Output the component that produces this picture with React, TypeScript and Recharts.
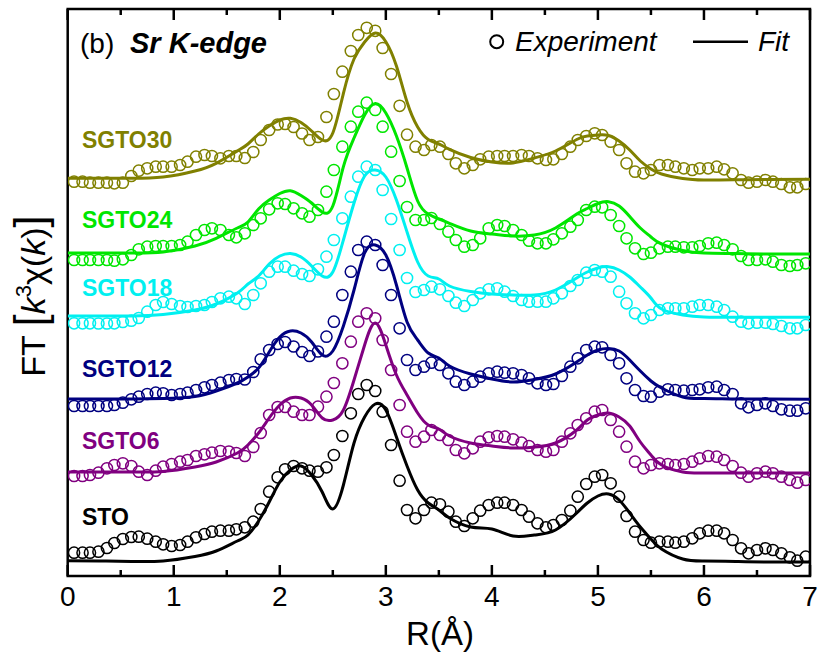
import React from 'react';
import { ComposedChart, Scatter, Line, XAxis, YAxis, ReferenceArea } from 'recharts';

// R grid (Å) of the experimental FT points
const R_EXP = [
  0.06, 0.14, 0.21, 0.29, 0.37, 0.44, 0.52, 0.60, 0.67, 0.75,
  0.83, 0.90, 0.98, 1.06, 1.13, 1.21, 1.29, 1.36, 1.44, 1.52,
  1.59, 1.67, 1.75, 1.82, 1.90, 1.98, 2.05, 2.13, 2.21, 2.28,
  2.36, 2.44, 2.51, 2.59, 2.67, 2.74, 2.82, 2.90, 2.97, 3.05,
  3.13, 3.20, 3.28, 3.36, 3.43, 3.51, 3.59, 3.66, 3.74, 3.82,
  3.89, 3.97, 4.05, 4.12, 4.20, 4.28, 4.35, 4.43, 4.51, 4.58,
  4.66, 4.74, 4.81, 4.89, 4.97, 5.04, 5.12, 5.20, 5.27, 5.35,
  5.43, 5.50, 5.58, 5.66, 5.73, 5.81, 5.89, 5.96, 6.04, 6.12,
  6.19, 6.27, 6.35, 6.42, 6.50, 6.58, 6.65, 6.73, 6.81, 6.88,
  6.96,
];

// R grid (Å) of the fit curves
const R_FIT = [
  0, 0.3, 0.6, 0.9, 1.2, 1.4, 1.6, 1.7, 1.8, 1.9,
  2.0, 2.1, 2.2, 2.3, 2.4, 2.5, 2.6, 2.7, 2.8, 2.9,
  3.0, 3.1, 3.2, 3.3, 3.4, 3.5, 3.6, 3.8, 4.0, 4.2,
  4.4, 4.6, 4.8, 4.9, 5.0, 5.1, 5.2, 5.3, 5.4, 5.5,
  5.6, 5.8, 6.0, 6.3, 6.6, 7.0,
];

// Experimental |FT| (vertically offset, arb. units)
const STO_EXP = [
  2.33, 2.33, 2.33, 2.43, 2.80, 3.30, 3.70, 3.90, 3.93, 3.73,
  3.43, 3.17, 3.00, 3.10, 3.43, 3.87, 4.20, 4.43, 4.53, 4.53,
  4.67, 4.87, 5.43, 6.70, 8.43, 9.87, 10.67, 11.00, 10.77, 10.53,
  10.43, 10.87, 12.10, 14.00, 16.27, 18.20, 19.10, 18.50, 16.43, 13.10,
  9.53, 6.60, 5.77, 6.60, 7.33, 7.17, 6.43, 5.43, 5.00, 5.77,
  6.53, 7.10, 7.33, 7.33, 7.10, 6.60, 5.93, 5.27, 4.87, 5.10,
  5.60, 6.53, 7.93, 9.20, 9.93, 10.10, 9.27, 7.93, 6.00, 4.43,
  3.60, 3.33, 3.43, 3.43, 3.33, 3.43, 3.77, 4.27, 4.53, 4.53,
  4.27, 3.60, 2.77, 2.27, 2.60, 2.77, 2.60, 2.27, 1.87, 1.53,
  1.93,
];
const SGTO6_EXP = [
  10.0, 10.0, 10.1, 10.33, 10.77, 11.1, 11.27, 11.0, 10.43, 10.1,
  10.53, 10.93, 11.2, 11.43, 11.6, 12.0, 12.17, 12.33, 12.5, 12.45,
  12.3, 12.0, 12.9, 14.3, 16.1, 16.9, 16.9, 16.43, 16.1, 16.1,
  16.93, 17.93, 19.3, 21.27, 23.43, 25.43, 26.27, 25.77, 23.6, 20.6,
  17.1, 14.43, 13.43, 13.93, 14.6, 14.1, 13.6, 12.6, 12.27, 12.77,
  13.43, 13.87, 14.0, 13.93, 13.67, 13.33, 13.0, 12.6, 12.43, 12.6,
  13.43, 14.27, 15.1, 15.77, 16.43, 16.6, 15.6, 14.43, 12.93, 11.43,
  10.77, 11.1, 11.27, 11.2, 11.1, 11.2, 11.43, 11.77, 12.0, 11.93,
  11.6, 11.0, 10.33, 9.93, 10.27, 10.43, 10.27, 9.93, 9.6, 9.33,
  9.6,
];
const SGTO12_EXP = [
  17.0, 17.0, 17.0, 17.0, 17.0, 17.1, 17.33, 17.67, 17.93, 18.2,
  18.33, 18.27, 18.1, 18.2, 18.33, 18.6, 18.87, 19.1, 19.33, 19.6,
  19.7, 19.65, 20.4, 21.67, 22.6, 23.2, 23.4, 22.95, 22.4, 22.0,
  22.45, 23.93, 25.43, 28.1, 30.43, 32.6, 33.43, 33.1, 31.1, 28.1,
  24.77, 21.6, 20.6, 20.93, 21.33, 21.1, 20.27, 19.43, 19.1, 19.43,
  19.93, 20.27, 20.43, 20.33, 20.27, 20.1, 19.77, 19.27, 19.1, 19.2,
  20.0, 20.93, 21.77, 22.6, 22.93, 22.87, 22.1, 21.27, 19.77, 18.6,
  18.0, 17.93, 18.43, 18.67, 18.6, 18.53, 18.6, 18.67, 18.87, 18.93,
  18.6, 18.2, 17.27, 16.87, 17.1, 17.27, 17.0, 16.67, 16.53, 16.53,
  16.77,
];
const SGTO18_EXP = [
  25.27, 25.27, 25.27, 25.25, 25.25, 25.27, 25.4, 25.53, 25.8, 26.43,
  27.1, 27.4, 27.2, 27.0, 26.9, 27.0, 27.1, 27.4, 27.77, 27.93,
  27.77, 27.2, 28.1, 29.27, 30.43, 30.93, 30.93, 30.53, 30.2, 30.0,
  30.67, 31.93, 33.6, 35.77, 37.93, 39.93, 40.93, 40.6, 38.6, 35.7,
  32.6, 29.8, 28.4, 28.6, 28.93, 28.67, 28.0, 27.33, 27.0, 27.6,
  28.27, 28.67, 28.77, 28.43, 28.0, 27.6, 27.43, 27.43, 27.43, 27.77,
  28.27, 29.0, 29.6, 30.33, 30.6, 30.43, 29.93, 28.43, 27.27, 26.27,
  25.77, 26.1, 26.6, 26.77, 26.77, 26.77, 26.93, 27.1, 27.1, 26.93,
  26.6, 25.93, 25.43, 25.27, 25.33, 25.33, 25.2, 25.0, 24.77, 24.77,
  25.1,
];
const SGTO24_EXP = [
  31.6, 31.6, 31.6, 31.6, 31.6, 31.53, 31.67, 32.1, 32.67, 32.93,
  33.0, 33.0, 33.0, 33.1, 33.43, 34.1, 34.6, 34.77, 34.6, 34.1,
  33.87, 34.27, 35.1, 35.77, 36.67, 37.27, 37.2, 36.77, 36.27, 35.93,
  36.6, 38.43, 40.6, 42.93, 44.93, 46.43, 47.33, 46.6, 44.93, 42.43,
  39.5, 36.9, 35.6, 35.6, 35.8, 35.2, 34.43, 33.6, 32.93, 33.1,
  33.77, 34.77, 35.1, 35.0, 34.6, 34.1, 33.53, 33.27, 33.27, 33.67,
  34.27, 34.93, 35.6, 36.6, 36.93, 36.87, 36.1, 35.0, 33.77, 32.77,
  32.2, 32.33, 32.77, 32.93, 32.93, 32.87, 32.87, 33.0, 33.27, 33.33,
  33.1, 32.67, 32.0, 31.6, 31.6, 31.67, 31.43, 31.1, 31.0, 31.1,
  31.27,
];
const SGTO30_EXP = [
  39.43, 39.43, 39.33, 39.33, 39.33, 39.27, 39.33, 40.0, 40.53, 40.77,
  40.93, 40.93, 40.93, 41.1, 41.43, 41.93, 42.1, 42.0, 41.77, 42.0,
  42.0, 41.8, 42.4, 43.6, 44.6, 45.15, 45.2, 44.9, 44.25, 43.6,
  43.9, 45.9, 48.2, 50.43, 52.5, 54.1, 54.82, 54.52, 52.8, 50.2,
  47.02, 44.13, 42.93, 42.6, 43.1, 42.93, 42.2, 41.27, 40.77, 41.1,
  41.67, 41.93, 42.0, 42.0, 42.0, 42.1, 42.0, 41.77, 41.6, 41.67,
  42.2, 42.93, 43.6, 44.0, 44.27, 44.1, 43.43, 42.6, 41.27, 40.43,
  40.27, 40.6, 41.1, 41.1, 40.93, 40.77, 40.6, 40.77, 40.77, 40.93,
  40.67, 40.27, 39.6, 39.33, 39.43, 39.6, 39.43, 39.2, 38.87, 38.87,
  39.2,
];

// Fit curves (same offsets)
const STO_FIT = [
  1.53, 1.50, 1.45, 1.50, 1.95, 2.50, 3.50, 4.10, 5.50, 7.40,
  9.40, 10.60, 11.00, 10.10, 8.40, 6.70, 9.10, 13.30, 15.90, 17.20,
  16.60, 13.90, 11.00, 8.60, 7.30, 6.60, 5.80, 4.90, 4.70, 4.00,
  4.10, 4.60, 6.30, 7.30, 8.00, 8.20, 7.60, 6.30, 4.90, 3.70,
  2.70, 1.70, 1.50, 1.45, 1.40, 1.40,
];
const SGTO6_FIT = [
  10.4, 10.4, 10.4, 10.45, 10.9, 11.4, 12.3, 13.1, 14.3, 15.8,
  17.1, 17.8, 17.8, 17.1, 15.8, 15.6, 16.6, 19.6, 23.1, 25.3,
  23.1, 20.1, 18.1, 16.3, 15.1, 14.7, 14.0, 13.3, 13.0, 12.8,
  12.9, 13.3, 14.6, 15.6, 16.1, 16.3, 15.9, 15.0, 13.4, 12.1,
  11.1, 10.4, 10.3, 10.3, 10.3, 10.3,
];
const SGTO12_FIT = [
  17.7, 17.7, 17.7, 17.75, 17.95, 18.5, 19.3, 19.9, 20.8, 22.4,
  23.9, 24.5, 24.3, 23.4, 22.1, 22.5, 25.0, 28.6, 32.3, 33.1,
  32.1, 29.1, 25.4, 23.6, 22.3, 21.8, 21.0, 20.2, 19.7, 19.4,
  19.65, 20.2, 21.4, 22.1, 22.6, 22.75, 22.5, 21.6, 20.5, 19.5,
  18.8, 17.9, 17.75, 17.7, 17.7, 17.67,
];
const SGTO18_FIT = [
  26.0, 26.0, 26.0, 26.15, 26.6, 27.2, 28.3, 29.2, 30.0, 31.2,
  32.0, 32.25, 31.9, 31.0, 30.0, 30.4, 33.6, 37.3, 40.0, 40.6,
  39.9, 37.6, 34.4, 31.4, 30.0, 29.7, 29.0, 28.45, 28.2, 28.1,
  28.1, 28.6, 29.8, 30.4, 30.8, 30.93, 30.6, 29.9, 28.9, 27.8,
  26.7, 26.1, 25.9, 25.87, 25.87, 25.87,
];
const SGTO24_FIT = [
  32.3, 32.3, 32.3, 32.4, 33.0, 33.77, 34.8, 35.4, 36.7, 37.6,
  38.25, 38.53, 38.05, 37.3, 36.4, 37.0, 40.93, 43.8, 46.1, 47.25,
  46.3, 44.0, 40.8, 37.5, 36.2, 35.7, 35.27, 34.5, 34.2, 34.0,
  34.1, 34.8, 36.2, 36.75, 37.25, 37.43, 37.0, 35.95, 34.8, 33.9,
  33.2, 32.55, 32.3, 32.25, 32.2, 32.2,
];
const SGTO30_FIT = [
  39.77, 39.77, 39.77, 39.9, 40.5, 41.27, 42.5, 43.2, 44.2, 45.0,
  45.6, 45.77, 45.35, 44.5, 43.6, 44.3, 48.27, 51.7, 53.4, 54.3,
  53.43, 51.0, 47.4, 44.9, 43.65, 43.2, 42.67, 41.85, 41.4, 41.3,
  41.8, 42.5, 43.65, 44.0, 44.1, 44.05, 43.5, 42.6, 41.5, 40.7,
  40.2, 39.75, 39.6, 39.62, 39.65, 39.67,
];

const SAMPLE_NAMES = ['SGTO30', 'SGTO24', 'SGTO18', 'SGTO12', 'SGTO6', 'STO'];
const X_TICKS = [0, 0.5, 1, 1.5, 2, 2.5, 3, 3.5, 4, 4.5, 5, 5.5, 6, 6.5, 7];
const Y_MAX = 56.7;

const COLORS: Record<string, string> = {
  SGTO30: '#808000',
  SGTO24: '#00e600',
  SGTO18: '#00f0f0',
  SGTO12: '#000080',
  SGTO6: '#800080',
  STO: '#000000',
};

const EXP: Record<string, number[]> = {
  SGTO30: SGTO30_EXP, SGTO24: SGTO24_EXP, SGTO18: SGTO18_EXP,
  SGTO12: SGTO12_EXP, SGTO6: SGTO6_EXP, STO: STO_EXP,
};
const FIT: Record<string, number[]> = {
  SGTO30: SGTO30_FIT, SGTO24: SGTO24_FIT, SGTO18: SGTO18_FIT,
  SGTO12: SGTO12_FIT, SGTO6: SGTO6_FIT, STO: STO_FIT,
};

const toPoints = (xs: number[], ys: number[]) => xs.map((x, i) => ({ x, y: ys[i] }));

const FONT = "'Liberation Sans', Arial, Helvetica, sans-serif";

function isMajor(v: number) {
  return Math.abs(v - Math.round(v)) < 1e-6;
}

function BottomTick(props: any) {
  const { x, y, payload } = props;
  const v = payload.value as number;
  const major = isMajor(v);
  return (
    <g>
      <line x1={x} x2={x} y1={y} y2={y - (major ? 11 : 6)} stroke="#000" strokeWidth={2.5} />
      {major && (
        <text x={x} y={y + 30} textAnchor="middle" fontSize={28} fontFamily={FONT} fill="#000">
          {v}
        </text>
      )}
    </g>
  );
}

function TopTick(props: any) {
  const { x, y, payload } = props;
  const v = payload.value as number;
  const major = isMajor(v);
  return (
    <line x1={x} x2={x} y1={y} y2={y + (major ? 11 : 6)} stroke="#000" strokeWidth={2.5} />
  );
}

const ring = (color: string) => (p: any) =>
  p.cx == null || p.cy == null ? <g /> : (
    <circle cx={p.cx} cy={p.cy} r={5.6} fill="none" stroke={color} strokeWidth={1.5} />
  );

const LABEL_BASELINES: Record<string, number> = {
  SGTO30: 148, SGTO24: 228, SGTO18: 296, SGTO12: 377, SGTO6: 448.5, STO: 525,
};

function Overlay() {
  return (
    <svg
      width={818}
      height={659}
      style={{ position: 'absolute', left: 0, top: 0, pointerEvents: 'none' }}
    >
      {/* panel title */}
      <text x={80} y={53} fontSize={28} fontFamily={FONT} fill="#000">(b)</text>
      <text x={130} y={53} fontSize={29} fontFamily={FONT} fontWeight="bold" fontStyle="italic" fill="#000">
        Sr K-edge
      </text>
      {/* legend */}
      <circle cx={496.7} cy={41.7} r={6.5} fill="none" stroke="#000" strokeWidth={2} />
      <text x={515} y={50.7} fontSize={28} fontFamily={FONT} fontStyle="italic" fill="#000">Experiment</text>
      <line x1={693} x2={748} y1={41.7} y2={41.7} stroke="#000" strokeWidth={2.5} />
      <text x={758} y={50.7} fontSize={28} fontFamily={FONT} fontStyle="italic" fill="#000">Fit</text>
      {/* sample labels */}
      {SAMPLE_NAMES.map((n) => (
        <text key={n} x={82} y={LABEL_BASELINES[n]} fontSize={23} fontWeight="bold" fontFamily={FONT} fill={COLORS[n]}>
          {n}
        </text>
      ))}
      {/* axis titles */}
      <text x={440} y={645} textAnchor="middle" fontSize={33} fontFamily={FONT} fill="#000">R(Å)</text>
      <text
        transform="rotate(-90)"
        x={-296}
        y={45}
        textAnchor="middle"
        fontSize={34}
        fontFamily={FONT}
        fill="#000"
      >
        FT <tspan fontSize={44}>[</tspan>
        <tspan fontStyle="italic">k</tspan>
        <tspan fontSize={22} dy={-14}>3</tspan>
        <tspan dy={14}>χ(</tspan>
        <tspan fontStyle="italic">k</tspan>
        <tspan>)</tspan>
        <tspan fontSize={44}>]</tspan>
      </text>
    </svg>
  );
}

export default function App() {
  return (
    <div style={{ position: 'absolute', left: 0, top: 0, width: 818, height: 659, background: '#fff' }}>
      <ComposedChart width={818} height={659} margin={{ top: 7, right: 8, bottom: 23, left: 67.7 }}>
        <XAxis
          xAxisId="b"
          dataKey="x"
          type="number"
          domain={[0, 7]}
          ticks={X_TICKS}
          interval={0}
          allowDataOverflow
          axisLine={false}
          tickLine={false}
          tickSize={0}
          tickMargin={0}
          height={60}
          tick={<BottomTick />}
        />
        <XAxis
          xAxisId="t"
          orientation="top"
          dataKey="x"
          type="number"
          domain={[0, 7]}
          ticks={X_TICKS}
          interval={0}
          allowDataOverflow
          axisLine={false}
          tickLine={false}
          tickSize={0}
          tickMargin={0}
          height={2}
          tick={<TopTick />}
        />
        <YAxis yAxisId="l" type="number" domain={[0, Y_MAX]} allowDataOverflow hide />
        <ReferenceArea
          xAxisId="b"
          yAxisId="l"
          x1={0}
          x2={7}
          y1={0}
          y2={Y_MAX}
          fill="none"
          fillOpacity={0}
          stroke="#000"
          strokeWidth={2.5}
          ifOverflow="visible"
        />
        {SAMPLE_NAMES.map((n) => (
          <Scatter
            key={`exp-${n}`}
            xAxisId="b"
            yAxisId="l"
            data={toPoints(R_EXP, EXP[n])}
            dataKey="y"
            shape={ring(COLORS[n])}
            isAnimationActive={false}
          />
        ))}
        {SAMPLE_NAMES.map((n) => (
          <Line
            key={`fit-${n}`}
            xAxisId="b"
            yAxisId="l"
            data={toPoints(R_FIT, FIT[n])}
            dataKey="y"
            type="natural"
            stroke={COLORS[n]}
            strokeWidth={3}
            dot={false}
            activeDot={false}
            isAnimationActive={false}
          />
        ))}
        <Scatter xAxisId="t" yAxisId="l" data={[]} dataKey="y" isAnimationActive={false} />
      </ComposedChart>
      <Overlay />
    </div>
  );
}
